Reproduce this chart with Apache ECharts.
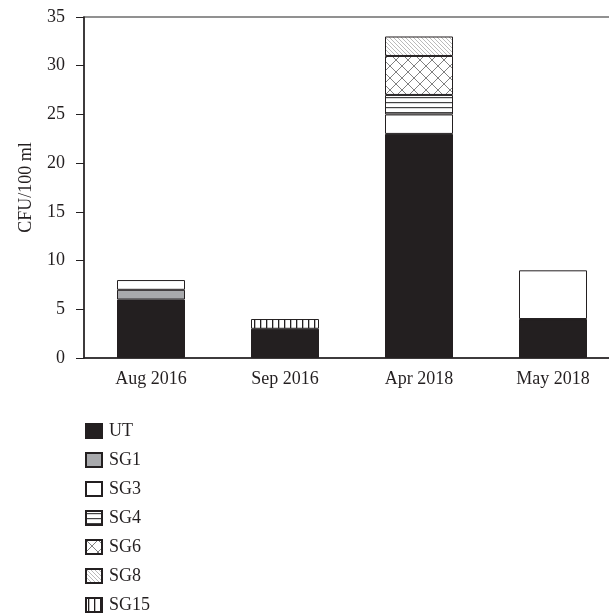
<!DOCTYPE html>
<html>
<head>
<meta charset="utf-8">
<script src="https://cdn.jsdelivr.net/npm/echarts@6/dist/echarts.min.js"></script>
<style>html,body{margin:0;padding:0;background:#fff}#c{width:609px;height:616px}</style>
</head>
<body>
<div id="c"></div>
<script>
const categories = ['Aug 2016', 'Sep 2016', 'Apr 2018', 'May 2018'];
const UT   = [6, 3, 23, 4];
const SG1  = [1, null, null, null];
const SG3  = [1, null, 2, 5];
const SG4  = [null, null, 2, null];
const SG6  = [null, null, 4, null];
const SG8  = [null, null, 2, null];
const SG15 = [null, 1, null, null];
const yTicks = [0, 5, 10, 15, 20, 25, 30, 35];

function tile(w, h, draw) {
  const c = document.createElement('canvas');
  c.width = w; c.height = h;
  const g = c.getContext('2d');
  g.fillStyle = '#fff'; g.fillRect(0, 0, w, h);
  draw(g, w, h);
  return { image: c, repeat: 'repeat' };
}
const patSG4 = tile(5, 5, (g, w, h) => { g.fillStyle = '#444'; g.fillRect(0, 2, w, 1.2); });
const patSG15 = tile(6, 6, (g, w, h) => { g.fillStyle = '#231f20'; g.fillRect(2, 0, 1.3, h); });
const patSG8 = tile(4, 4, (g, w, h) => {
  g.strokeStyle = '#a8a8a8'; g.lineWidth = 0.8;
  g.beginPath();
  g.moveTo(-1, -1); g.lineTo(w + 1, h + 1);
  g.moveTo(-1, h - 1); g.lineTo(1, h + 1);
  g.moveTo(w - 1, -1); g.lineTo(w + 1, 1);
  g.stroke();
});
const patSG6 = tile(12, 12, (g, w, h) => {
  g.strokeStyle = '#808080'; g.lineWidth = 1;
  g.beginPath();
  g.moveTo(0, 0); g.lineTo(w, h);
  g.moveTo(w, 0); g.lineTo(0, h);
  g.stroke();
});

const names = ['UT', 'SG1', 'SG3', 'SG4', 'SG6', 'SG8', 'SG15'];
const datas = [UT, SG1, SG3, SG4, SG6, SG8, SG15];
const fills = ['#231f20', '#a8a9ac', '#ffffff', patSG4, patSG6, patSG8, patSG15];

const series = names.map((n, i) => ({
  name: n,
  type: 'bar',
  stack: 'all',
  barWidth: 68,
  data: datas[i],
  itemStyle: { color: fills[i], borderColor: '#231f20', borderWidth: 1 },
  emphasis: { disabled: true }
}));

const chart = echarts.init(document.getElementById('c'), null, { renderer: 'canvas' });
const font = 'Liberation Serif';
chart.setOption({
  animation: false,
  backgroundColor: '#fff',
  grid: {
    left: 84, top: 17, width: 536, height: 341,
    show: true, borderColor: '#6e6e6e', borderWidth: 1.5,
    outerBoundsMode: 'none', containLabel: false
  },
  legend: {
    orient: 'vertical', left: 85, top: 422, padding: 0,
    icon: 'rect', itemWidth: 16, itemHeight: 14, itemGap: 11,
    selectedMode: false,
    textStyle: { fontFamily: font, fontSize: 18, color: '#231f20', padding: [0, 0, 0, 2] },
    data: names
  },
  xAxis: {
    type: 'category', data: categories,
    axisLine: { lineStyle: { color: '#231f20', width: 1.5 } },
    axisTick: { show: false },
    axisLabel: { fontFamily: font, fontSize: 18, color: '#231f20', margin: 12 }
  },
  yAxis: {
    type: 'value', min: yTicks[0], max: yTicks[yTicks.length - 1], interval: 5,
    name: 'CFU/100 ml', nameLocation: 'middle', nameGap: 49, nameRotate: 90,
    nameTextStyle: { fontFamily: font, fontSize: 18, color: '#231f20' },
    axisLine: { show: true, lineStyle: { color: '#231f20', width: 1.5 } },
    axisTick: { show: true, length: 8, lineStyle: { color: '#231f20', width: 1 } },
    splitLine: { show: false },
    axisLabel: { fontFamily: font, fontSize: 18, color: '#231f20', margin: 19 }
  },
  series: series
});
</script>
</body>
</html>
